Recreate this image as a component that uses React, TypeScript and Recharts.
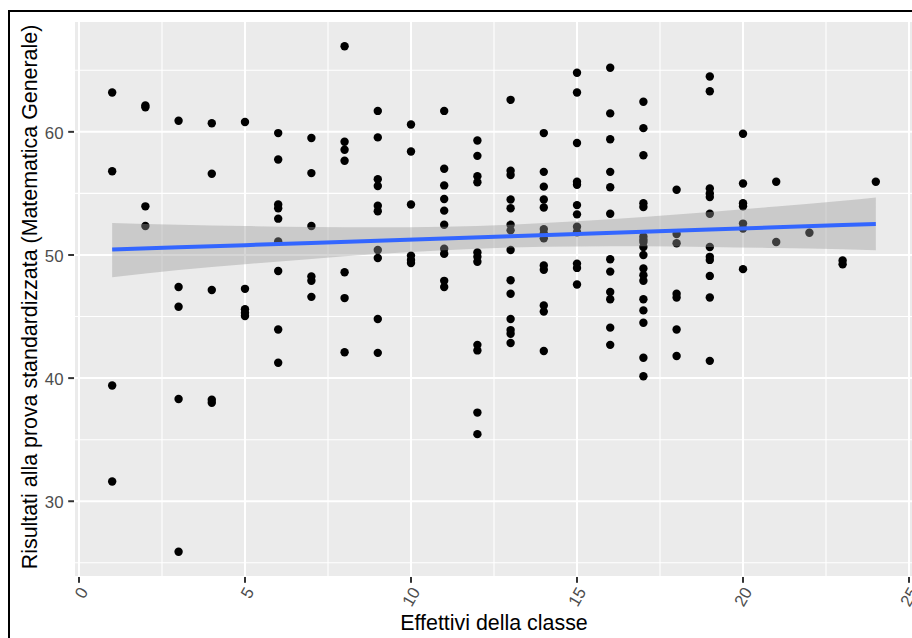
import React from 'react';
import {
  ComposedChart,
  Scatter,
  Area,
  Line,
  XAxis,
  YAxis,
  CartesianGrid,
  Label,
} from 'recharts';

// Class size (effettivi) for each column of points
const classSizes = [1, 2, 3, 4, 5, 6, 7, 8, 9, 10, 11, 12, 13, 14, 15, 16, 17, 18, 19, 20, 21, 22, 23, 24];

// Standardised maths scores observed for each class size
const scoresBySize: number[][] = [
  [63.2, 56.8, 39.4, 31.6],
  [62.15, 62.0, 53.95, 52.35],
  [60.9, 47.4, 45.8, 38.3, 25.9],
  [60.7, 56.6, 47.15, 38.25, 38.0],
  [60.8, 47.25, 45.6, 45.3, 45.05],
  [59.9, 57.75, 54.1, 53.8, 52.95, 51.1, 48.7, 43.95, 41.25],
  [59.5, 56.65, 52.35, 48.25, 47.9, 46.6],
  [66.95, 59.2, 58.55, 57.65, 48.6, 46.5, 42.1],
  [61.7, 59.55, 56.15, 55.6, 54.0, 53.55, 50.4, 49.75, 44.8, 42.05],
  [60.6, 58.4, 54.1, 49.95, 49.6, 49.35],
  [61.7, 57.0, 55.65, 54.55, 53.6, 52.45, 50.5, 50.1, 47.9, 47.4],
  [59.3, 58.05, 56.4, 55.9, 50.2, 49.85, 49.45, 42.7, 42.25, 37.2, 35.45],
  [62.6, 56.85, 56.5, 54.5, 53.8, 52.45, 52.0, 50.4, 47.95, 46.85, 44.8, 43.9, 43.6, 42.85],
  [59.9, 56.75, 55.55, 54.5, 53.85, 52.1, 51.75, 51.35, 49.15, 48.8, 45.9, 45.4, 42.2],
  [64.8, 63.2, 59.1, 55.95, 55.7, 54.05, 53.3, 52.3, 51.85, 49.3, 48.95, 47.6],
  [65.2, 61.5, 59.4, 56.75, 55.5, 53.35, 49.65, 48.65, 47.0, 46.4, 44.1, 42.7],
  [62.45, 60.3, 58.1, 54.2, 53.9, 51.5, 51.25, 51.05, 50.65, 50.0, 48.9, 48.35, 47.9, 46.4, 45.5, 44.5, 41.65, 40.15],
  [55.3, 51.7, 50.95, 46.85, 46.55, 43.95, 41.8],
  [64.5, 63.3, 55.4, 55.0, 54.7, 53.35, 50.65, 49.85, 49.6, 48.3, 46.55, 41.4],
  [59.85, 55.8, 54.2, 53.95, 52.55, 52.15, 48.85],
  [55.95, 51.05],
  [51.8],
  [49.55, 49.25],
  [55.95],
];

// Linear fit and its confidence band, sampled along the class-size range
const bandX = [1, 3, 5, 7, 9, 11, 13, 15, 17, 19, 21, 23, 24];
const fitY = [50.44, 50.62, 50.8, 50.98, 51.16, 51.34, 51.53, 51.71, 51.89, 52.07, 52.25, 52.43, 52.52];
const bandLow = [48.2, 48.79, 49.25, 49.68, 50.07, 50.38, 50.6, 50.69, 50.7, 50.65, 50.56, 50.46, 50.38];
const bandHigh = [52.6, 52.45, 52.35, 52.28, 52.25, 52.3, 52.46, 52.73, 53.08, 53.49, 53.94, 54.4, 54.66];

// Axis ticks
const xTicks = [0, 5, 10, 15, 20, 25];
const xMinor = [2.5, 7.5, 12.5, 17.5, 22.5];
const yTicks = [30, 40, 50, 60];
const yMinor = [25, 35, 45, 55, 65];

const xTitle = 'Effettivi della classe';
const yTitle = 'Risultati alla prova standardizzata (Matematica Generale)';

const FONT = '"Liberation Sans", Arial, Helvetica, sans-serif';

const points = classSizes.flatMap((x, i) => scoresBySize[i].map((y) => ({ x, y })));
const rows = bandX.map((x, i) => ({ x, fit: fitY[i], band: [bandLow[i], bandHigh[i]] }));

// ggplot-style 5% expansion of the data range
const expand = (lo: number, hi: number): [number, number] => {
  const pad = (hi - lo) * 0.05;
  return [lo - pad, hi + pad];
};
const allY = points.map((p) => p.y);
const xDomain = expand(Math.min(...classSizes), Math.max(...classSizes));
const yDomain = expand(Math.min(...allY), Math.max(...allY));

const XTick = (props: any) => {
  const { x, y, payload } = props;
  const ax = x + 5;
  const ay = y + 4;
  return (
    <text
      x={ax}
      y={ay}
      transform={`rotate(-60, ${ax}, ${ay})`}
      textAnchor="end"
      dominantBaseline="central"
      fontSize={16.8}
      fill="#4D4D4D"
      fontFamily={FONT}
    >
      {payload.value}
    </text>
  );
};

const YTick = (props: any) => {
  const { x, y, payload } = props;
  return (
    <text x={x} y={y + 7} textAnchor="end" fontSize={16.8} fill="#4D4D4D" fontFamily={FONT}>
      {payload.value}
    </text>
  );
};

const Dot = (props: any) => <circle cx={props.cx} cy={props.cy} r={4.2} fill="#000000" />;

export default function App() {
  return (
    <div
      style={{
        position: 'fixed',
        left: 0,
        top: 0,
        width: 912,
        height: 638,
        overflow: 'hidden',
        background: '#FFFFFF',
      }}
    >
      <div style={{ position: 'absolute', left: 0, top: 0 }}>
        <ComposedChart
          width={930}
          height={638}
          data={rows}
          margin={{ top: 21, right: 16, bottom: 0, left: 0 }}
        >
          <CartesianGrid
            fill="#EBEBEB"
            stroke="#FFFFFF"
            strokeWidth={1.1}
            verticalValues={xMinor}
            horizontalValues={yMinor}
          />
          <CartesianGrid stroke="#FFFFFF" strokeWidth={2} />
          <XAxis
            type="number"
            dataKey="x"
            domain={xDomain}
            ticks={xTicks}
            allowDataOverflow
            height={61}
            axisLine={false}
            tickLine={{ stroke: '#333333', strokeWidth: 2 }}
            tickSize={5.8}
            tickMargin={2}
            tick={<XTick />}
            interval={0}
          >
            <Label
              content={(p: any) => {
                const vb = p.viewBox || { x: 74, y: 577, width: 840, height: 61 };
                return (
                  <text
                    x={vb.x + vb.width / 2}
                    y={vb.y + 53}
                    textAnchor="middle"
                    fontSize={21.4}
                    fill="#000000"
                    fontFamily={FONT}
                  >
                    {xTitle}
                  </text>
                );
              }}
            />
          </XAxis>
          <YAxis
            type="number"
            domain={yDomain}
            ticks={yTicks}
            allowDataOverflow
            width={74}
            axisLine={false}
            tickLine={{ stroke: '#333333', strokeWidth: 2 }}
            tickSize={5.8}
            tickMargin={4.7}
            tick={<YTick />}
            interval={0}
          >
            <Label
              content={(p: any) => {
                const vb = p.viewBox || { x: 0, y: 21, width: 74, height: 556 };
                const cy = vb.y + vb.height / 2 - 2;
                return (
                  <text
                    x={36.5}
                    y={cy}
                    transform={`rotate(-90, 36.5, ${cy})`}
                    textAnchor="middle"
                    fontSize={21.4}
                    fill="#000000"
                    fontFamily={FONT}
                  >
                    {yTitle}
                  </text>
                );
              }}
            />
          </YAxis>
          <Scatter
            data={points}
            dataKey="y"
            shape={<Dot />}
            isAnimationActive={false}
            zIndex={300}
          />
          <Area
            dataKey="band"
            type="monotone"
            stroke="none"
            fill="#999999"
            fillOpacity={0.4}
            isAnimationActive={false}
            activeDot={false}
            zIndex={700}
          />
          <Line
            dataKey="fit"
            type="linear"
            stroke="#3366FF"
            strokeWidth={4}
            dot={false}
            activeDot={false}
            isAnimationActive={false}
            zIndex={800}
          />
        </ComposedChart>
      </div>
      <div
        style={{
          position: 'absolute',
          left: 8,
          top: 10,
          width: 2000,
          height: 2000,
          borderTop: '2.3px solid #000000',
          borderLeft: '2.7px solid #000000',
          pointerEvents: 'none',
        }}
      />
    </div>
  );
}
